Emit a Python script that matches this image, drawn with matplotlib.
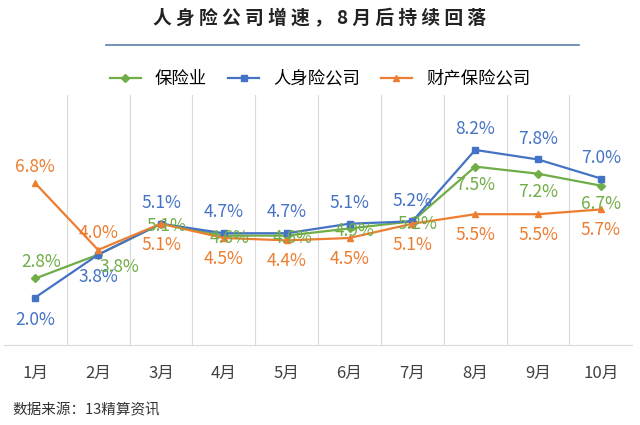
import matplotlib
matplotlib.use("Agg")
import matplotlib.pyplot as plt
from matplotlib.lines import Line2D

plt.rcParams["font.family"] = ["Noto Sans CJK SC", "DejaVu Sans"]

months = ["1月", "2月", "3月", "4月", "5月", "6月", "7月", "8月", "9月", "10月"]
industry = [2.8, 3.8, 5.1, 4.6, 4.6, 4.9, 5.2, 7.5, 7.2, 6.7]
life = [2.0, 3.8, 5.1, 4.7, 4.7, 5.1, 5.2, 8.2, 7.8, 7.0]
property_ = [6.8, 4.0, 5.1, 4.5, 4.4, 4.5, 5.1, 5.5, 5.5, 5.7]

GREEN, BLUE, ORANGE = "#70ad47", "#4472c4", "#ed7d31"

fig = plt.figure(figsize=(6.4, 4.25), dpi=100)
ax = fig.add_axes([0.006, 0.188, 0.982, 0.588])
x = list(range(len(months)))

ax.plot(x, industry, color=GREEN, marker="D", ms=4, lw=1.6, label="保险业")
ax.plot(x, life, color=BLUE, marker="s", ms=4.5, lw=1.6, label="人身险公司")
ax.plot(x, property_, color=ORANGE, marker="^", ms=5, lw=1.6, label="财产保险公司")

fs = 12.5
for i, v in enumerate(life):
    dy = -16 if i in (0, 1) else 15
    ax.annotate(f"{v:.1f}%", (i, v), xytext=(0, dy), textcoords="offset points",
                ha="center", va="center", color=BLUE, fontsize=fs)
for i, v in enumerate(property_):
    dy = 12 if i in (0, 1) else -15
    ax.annotate(f"{v:.1f}%", (i, v), xytext=(0, dy), textcoords="offset points",
                ha="center", va="center", color=ORANGE, fontsize=fs)
for i, v in enumerate(industry):
    dx, dy = (4, -2)
    if i == 0:
        dx, dy = (4, 12)
    if i == 1:
        dx, dy = (15, -9)
    if i >= 7:
        dx, dy = (0, -13)
    ax.annotate(f"{v:.1f}%", (i, v), xytext=(dx, dy), textcoords="offset points",
                ha="center", va="center", color=GREEN, fontsize=fs)

ax.set_xlim(-0.5, 9.5)
ax.set_ylim(0, 10.5)
ax.set_xticks([i + 0.5 for i in range(9)], minor=True)
ax.set_xticks(x)
ax.set_xticklabels(months, fontsize=12, color="#404040")
ax.tick_params(axis="x", which="both", length=0, pad=14)
ax.grid(axis="x", which="minor", color="#d9d9d9", lw=0.8)
ax.set_yticks([])
for s in ["top", "left", "right"]:
    ax.spines[s].set_visible(False)
ax.spines["bottom"].set_color("#d9d9d9")

fig.legend(handles=[Line2D([], [], color=c, marker=m, ms=4.5, lw=1.6) for c, m in
                    [(GREEN, "D"), (BLUE, "s"), (ORANGE, "^")]],
           labels=["保险业", "人身险公司", "财产保险公司"], loc="center",
           bbox_to_anchor=(0.5, 0.815), ncol=3, frameon=False, fontsize=12.5,
           handlelength=1.8, columnspacing=1.2)

fig.text(0.5, 0.955, "人 身 险 公 司 增 速 ， 8 月 后 持 续 回 落", ha="center",
         va="center", fontsize=13.5, fontweight="bold", color="#222222")
fig.add_artist(Line2D([0.165, 0.905], [0.893, 0.893], color="#5b7fa6", lw=1.2))
fig.text(0.02, 0.035, "数据来源：13精算资讯", fontsize=10.5, color="#333333", va="center")

fig.savefig("out.png", dpi=100)
